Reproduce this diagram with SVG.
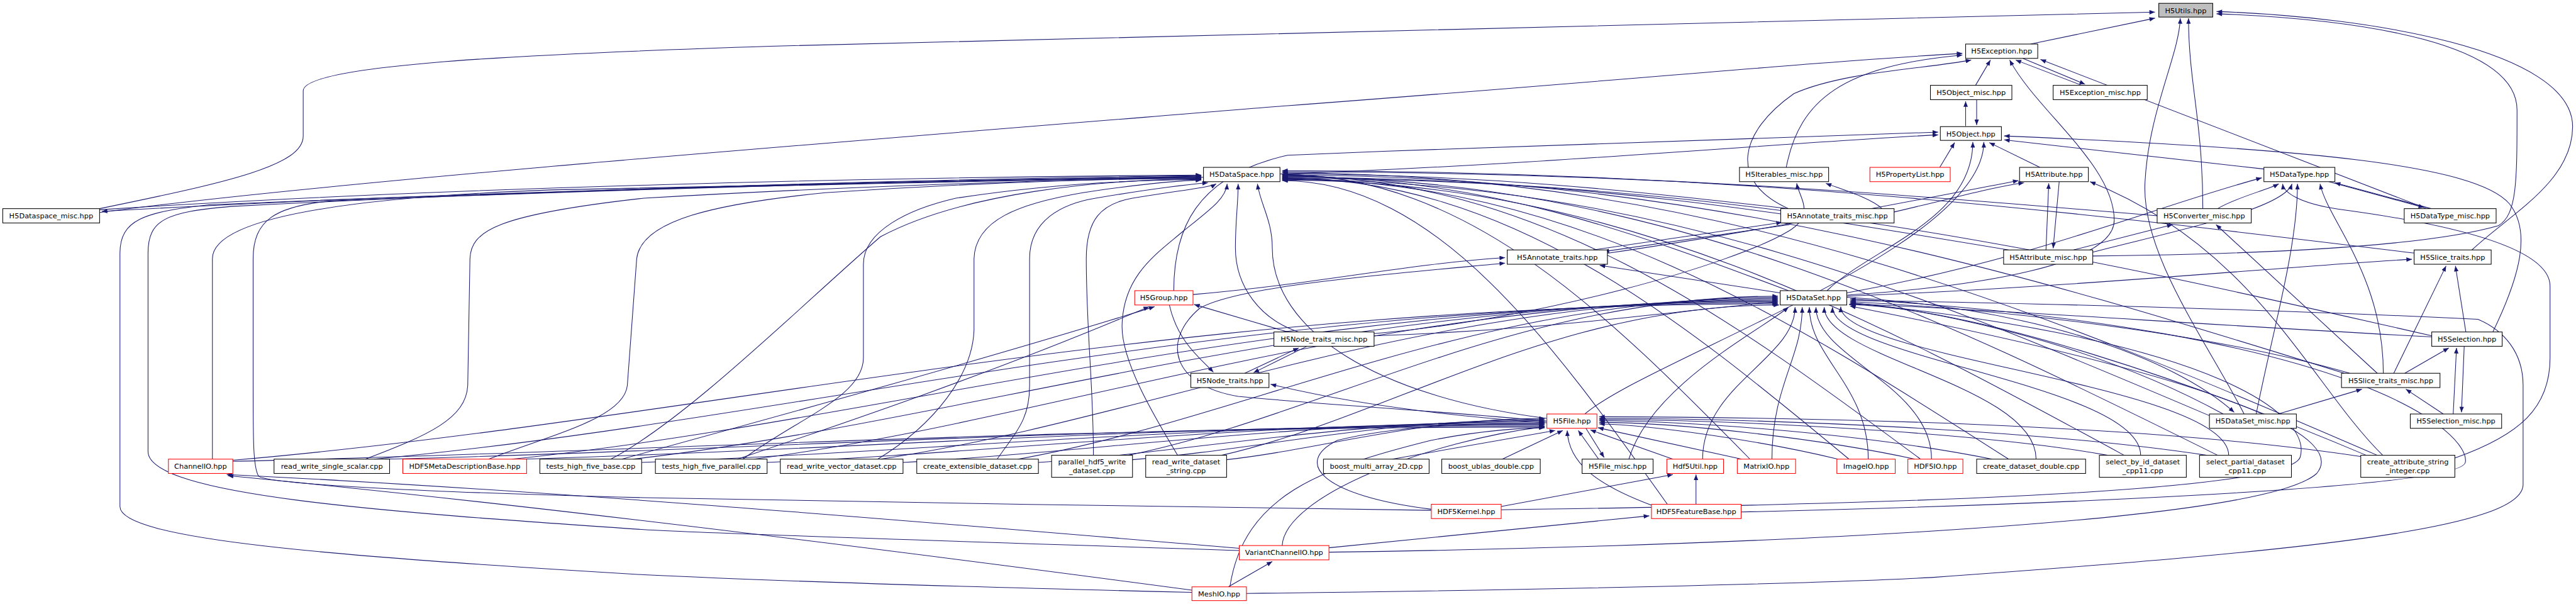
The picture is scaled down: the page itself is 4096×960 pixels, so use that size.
<svg xmlns="http://www.w3.org/2000/svg" width="4096" height="960" viewBox="0 0 4096 960">
<defs>
<marker id="ah" viewBox="0 0 10 8" refX="10" refY="4" markerWidth="11" markerHeight="8" markerUnits="userSpaceOnUse" orient="auto"><path d="M0,0L10,4L0,8z" fill="#191970"/></marker>
<style>
.n rect{fill:#fff;stroke:#000;stroke-width:1.2}
.n.r rect{stroke:#f00}
.n.root rect{fill:#bfbfbf}
.n text{font-family:"DejaVu Sans","Liberation Sans",sans-serif;font-size:13px;text-anchor:middle;fill:#000}
#edges path{fill:none;stroke:#191970;stroke-width:1.2;marker-end:url(#ah)}
</style>
</defs>
<rect width="4096" height="960" fill="#fff"/>
<g transform="scale(0.875)">
<g id="edges">
<path d="M3690,80 L3916,33"/>
<path d="M181,379 C420,330 551,300 551,247 L551,165 C551,120 900,100 1400,84 C2500,50 3500,28 3916,22"/>
<path d="M4003,379 C4003,220 3977,150 3977,33"/>
<path d="M4078,752 C4010,620 3890,460 3898,330 C3905,200 3960,100 3962,33"/>
<path d="M4492,454 C4560,390 4675,330 4675,230 C4675,90 4300,30 4028,21"/>
<path d="M3803,465 C4100,462 4400,450 4540,410 C4574,390 4574,330 4574,200 C4574,80 4300,35 4028,25"/>
<path d="M3590,155 L3617,109"/>
<path d="M3783,155 L3663,109"/>
<path d="M3676,106 L3789,153"/>
<path d="M181,386 C600,330 1500,260 2340,192 C2900,150 3300,112 3566,97"/>
<path d="M3246,304 C3270,180 3350,120 3566,100"/>
<path d="M3250,379 C3140,330 3160,240 3260,170 C3350,130 3500,125 3582,109"/>
<path d="M4410,379 L3708,108"/>
<path d="M3357,536 C3600,520 3842,480 3842,400 C3842,300 3700,200 3652,109"/>
<path d="M3572,229 L3572,184"/>
<path d="M3592,181 L3592,227"/>
<path d="M2326,316 C2800,300 3300,255 3522,245"/>
<path d="M2133,528 C2133,420 2170,320 2340,282 C2800,262 3300,248 3522,240"/>
<path d="M3525,304 L3552,259"/>
<path d="M3707,304 L3615,259"/>
<path d="M4114,307 L3642,254"/>
<path d="M4530,603 C4580,500 4600,420 4560,370 C4500,300 4200,270 3642,247"/>
<path d="M3320,528 C3400,450 3585,400 3585,258"/>
<path d="M2880,752 C3000,650 3605,450 3605,258"/>
<path d="M181,381 C800,340 1600,322 2183,318"/>
<path d="M2187,322 C1600,332 800,348 185,384"/>
<path d="M386,834 L386,470 C386,400 600,360 1000,345 C1600,330 2000,322 2183,320"/>
<path d="M2252,1000 C1800,985 1300,970 1170,962 C700,930 269,900 269,820 L269,460 C269,400 300,385 420,375 C900,350 1600,326 2183,319"/>
<path d="M2166,1076 C1700,1065 1400,1055 1170,1044 C600,1010 218,980 218,920 L218,460 C218,400 260,385 380,372 C900,350 1600,327 2183,321"/>
<path d="M2601,927 C2300,922 1500,912 1170,904 C800,895 490,880 470,865 C460,850 460,800 460,700 L460,470 C460,400 500,375 600,365 C1100,345 1700,327 2183,322"/>
<path d="M664,834 C780,790 847,760 850,700 L854,470 C856,420 900,390 1170,360 C1600,335 2000,325 2183,323"/>
<path d="M888,834 C1000,790 1134,760 1140,700 L1157,470 C1165,400 1300,370 1500,350 C1800,330 2050,324 2183,324"/>
<path d="M1110,834 C1250,760 1450,560 1600,430 C1750,350 2000,326 2183,325"/>
<path d="M1350,834 C1450,760 1569,720 1569,650 L1569,480 C1569,420 1650,380 1737,360 C1900,335 2050,327 2183,326"/>
<path d="M1595,834 C1700,770 1767,680 1770,600 L1770,470 C1772,400 1850,370 1968,350 C2080,333 2150,328 2183,327"/>
<path d="M1812,834 C1850,780 1871,760 1871,700 L1871,470 C1871,400 1930,370 1991,360 C2080,345 2160,335 2195,332"/>
<path d="M1987,827 C1987,700 1974,600 1974,470 C1974,400 2000,370 2058,360 C2150,345 2200,340 2210,334"/>
<path d="M2140,827 C2100,760 2039,660 2039,593 C2040,500 2103,460 2150,420 C2200,380 2228,360 2230,334"/>
<path d="M2360,603 C2290,580 2245,520 2245,450 C2245,400 2250,370 2250,334"/>
<path d="M2811,760 C2500,720 2312,600 2312,450 C2312,400 2290,370 2285,334"/>
<path d="M3250,528 C2974,424 2698,320 2330,320"/>
<path d="M3250,379 C2974,348 2698,316 2330,316"/>
<path d="M3650,454 C3254,388 2858,322 2330,322"/>
<path d="M3920,392 C3443,352 2966,312 2330,312"/>
<path d="M4419,610 C3792,467 3166,324 2330,324"/>
<path d="M4015,755 C3510,540 3004,326 2330,326"/>
<path d="M4260,678 C3681,498 3102,318 2330,318"/>
<path d="M3650,834 C3254,580 2858,325 2330,325"/>
<path d="M3860,827 C3401,577 2942,327 2330,327"/>
<path d="M4030,827 C3520,574 3010,321 2330,321"/>
<path d="M4320,827 C3723,570 3126,314 2330,314"/>
<path d="M3360,834 C3051,578 2742,323 2330,323"/>
<path d="M3490,834 C3142,576 2794,319 2330,319"/>
<path d="M3180,834 C2925,575 2670,317 2330,317"/>
<path d="M3030,916 C2820,622 2610,328 2330,328"/>
<path d="M4390,460 C3772,385 3154,310 2330,310"/>
<path d="M423,836 C1265,764 2108,552 3231,552"/>
<path d="M680,834 C1445,763 2211,550 3231,550"/>
<path d="M930,834 C1620,762 2311,548 3231,548"/>
<path d="M1150,834 C1774,762 2399,546 3231,546"/>
<path d="M1370,834 C1928,761 2487,544 3231,544"/>
<path d="M1600,834 C2089,761 2579,542 3231,542"/>
<path d="M1850,834 C2264,760 2679,540 3231,540"/>
<path d="M2050,827 C2404,755 2759,538 3231,538"/>
<path d="M2220,827 C2524,758 2828,553 3233,554"/>
<path d="M2265,1078 C2800,1072 3300,1060 3510,1049 C4200,1000 4585,960 4585,880 L4585,700 C4585,640 4550,600 4503,580 C4200,565 3700,550 3362,546"/>
<path d="M2960,834 C3000,700 3200,600 3250,558"/>
<path d="M3094,834 C3094,700 3262,650 3262,558"/>
<path d="M3220,834 C3220,700 3275,650 3275,558"/>
<path d="M3395,834 C3395,700 3288,650 3288,558"/>
<path d="M3510,834 C3510,700 3300,650 3300,558"/>
<path d="M3700,834 C3700,700 3315,650 3315,558"/>
<path d="M3890,827 C3890,700 3330,650 3330,558"/>
<path d="M4050,827 C4050,700 3345,650 3345,557"/>
<path d="M4300,827 C4000,700 3600,560 3360,553"/>
<path d="M2728,926 C3300,918 4160,900 4180,830 C4200,760 4050,620 3362,550"/>
<path d="M3164,930 C3600,920 4470,890 4480,840 C4490,790 4300,600 3362,543"/>
<path d="M2415,1003 C3000,995 4100,960 4210,860 C4260,800 4100,700 3362,556"/>
<path d="M2497,610 C2800,600 3000,570 3231,548"/>
<path d="M4040,752 C3800,620 3500,560 3362,550"/>
<path d="M3356,540 C3700,560 3950,650 4060,749"/>
<path d="M4419,612 C4000,590 3600,560 3362,552"/>
<path d="M4270,678 C4000,600 3600,560 3362,548"/>
<path d="M423,838 C1138,822 1853,776 2807,776"/>
<path d="M700,834 C1332,819 1964,774 2807,774"/>
<path d="M950,834 C1507,819 2064,772 2807,772"/>
<path d="M1166,840 C1658,822 2151,770 2807,770"/>
<path d="M1394,840 C1818,822 2242,768 2807,768"/>
<path d="M1641,840 C1991,821 2341,766 2807,766"/>
<path d="M1887,840 C2163,821 2439,764 2807,764"/>
<path d="M2058,835 C2283,817 2507,762 2807,762"/>
<path d="M2229,835 C2402,816 2576,760 2807,760"/>
<path d="M2530,834 L2826,782"/>
<path d="M2730,834 L2840,782"/>
<path d="M2905,834 L2868,782"/>
<path d="M2882,778 L2915,831"/>
<path d="M3040,834 L2890,781"/>
<path d="M3165,834 L2904,777"/>
<path d="M3340,834 C3200,800 3000,772 2906,770"/>
<path d="M3480,834 C3300,795 3050,768 2906,767"/>
<path d="M3620,834 C3400,790 3100,766 2906,764"/>
<path d="M3830,827 C3600,785 3150,763 2906,762"/>
<path d="M4010,827 C3700,780 3200,760 2906,760"/>
<path d="M4295,830 C3900,770 3300,758 2906,757"/>
<path d="M3002,918 C2900,880 2850,840 2848,782"/>
<path d="M2601,925 C2400,900 2350,840 2430,800 C2550,770 2700,770 2807,770"/>
<path d="M2235,1066 C2260,900 2400,850 2600,800 C2700,780 2780,777 2807,777"/>
<path d="M2330,991 C2335,900 2600,800 2807,775"/>
<path d="M2811,765 C2600,745 2400,735 2250,720 C2130,700 2110,620 2180,560 C2250,520 2500,500 2735,478"/>
<path d="M2168,535 C2400,515 2550,480 2735,468"/>
<path d="M3235,532 L2907,482"/>
<path d="M2895,454 L3238,404"/>
<path d="M3252,408 L2914,457"/>
<path d="M2921,460 C3200,420 3500,360 3668,328"/>
<path d="M3442,385 C3550,360 3620,340 3678,332"/>
<path d="M2811,768 C2550,750 2400,720 2309,698"/>
<path d="M2125,554 C2140,620 2180,650 2205,676"/>
<path d="M2262,678 L2360,632"/>
<path d="M2375,629 L2278,677"/>
<path d="M2340,603 L2170,553"/>
<path d="M2497,606 C2800,580 3150,480 3250,420 C3300,390 3270,360 3265,333"/>
<path d="M3420,379 C3400,360 3350,345 3318,333"/>
<path d="M1340,834 C1500,780 1800,680 2088,557"/>
<path d="M1130,834 C1400,760 1800,650 2098,557"/>
<path d="M3356,532 C3700,470 3900,380 4110,323"/>
<path d="M3356,538 C3800,520 4200,480 4383,471"/>
<path d="M4030,379 C4060,360 4120,345 4141,334"/>
<path d="M3803,458 C3950,420 4150,380 4165,334"/>
<path d="M4100,752 C4130,600 4175,450 4175,334"/>
<path d="M4331,678 C4331,500 4230,400 4216,334"/>
<path d="M4461,832 C4580,790 4634,740 4634,650 L4634,520 C4634,440 4400,400 4250,380 C4180,370 4150,350 4148,334"/>
<path d="M4232,330 L4405,377"/>
<path d="M4418,379 L4243,332"/>
<path d="M4330,827 C4200,700 4100,450 3798,330"/>
<path d="M4320,678 L4027,408"/>
<path d="M3768,454 L3948,408"/>
<path d="M4478,629 L4473,749"/>
<path d="M4458,752 L4464,632"/>
<path d="M4481,603 L4462,483"/>
<path d="M4350,678 L4445,483"/>
<path d="M4370,678 L4450,632"/>
<path d="M4440,752 L4372,707"/>
<path d="M4140,752 L4292,707"/>
<path d="M3742,330 L3731,451"/>
<path d="M3718,454 L3723,333"/>
<path d="M2252,996 C1700,950 1000,890 412,862"/>
<path d="M2166,1072 C1700,1010 1000,920 414,864"/>
<path d="M2232,1066 L2312,1020"/>
<path d="M2415,995 L2997,937"/>
<path d="M2728,920 L3040,862"/>
<path d="M3082,916 L3082,862"/>
</g>
<g id="n_H5Utils" class="n root"><rect x="3923" y="6" width="98" height="25"/><text x="3972" y="23.5">H5Utils.hpp</text></g>
<g id="n_H5Exception" class="n"><rect x="3572" y="80" width="131" height="26"/><text x="3637.5" y="97.5">H5Exception.hpp</text></g>
<g id="n_H5Object_misc" class="n"><rect x="3508" y="155" width="148" height="26"/><text x="3582" y="172.5">H5Object_misc.hpp</text></g>
<g id="n_H5Exception_misc" class="n"><rect x="3731" y="155" width="171" height="26"/><text x="3816.5" y="172.5">H5Exception_misc.hpp</text></g>
<g id="n_H5Object" class="n"><rect x="3526" y="230" width="111" height="25"/><text x="3581.5" y="247.5">H5Object.hpp</text></g>
<g id="n_H5DataSpace" class="n"><rect x="2187" y="304" width="139" height="26"/><text x="2256.5" y="321.5">H5DataSpace.hpp</text></g>
<g id="n_H5Iterables_misc" class="n"><rect x="3161" y="304" width="162" height="26"/><text x="3242" y="321.5">H5Iterables_misc.hpp</text></g>
<g id="n_H5PropertyList" class="n r"><rect x="3398" y="304" width="146" height="26"/><text x="3471" y="321.5">H5PropertyList.hpp</text></g>
<g id="n_H5Attribute" class="n"><rect x="3670" y="304" width="125" height="26"/><text x="3732.5" y="321.5">H5Attribute.hpp</text></g>
<g id="n_H5DataType" class="n"><rect x="4114" y="304" width="129" height="26"/><text x="4178.5" y="321.5">H5DataType.hpp</text></g>
<g id="n_H5Dataspace_misc" class="n"><rect x="5" y="379" width="176" height="26"/><text x="93" y="396.5">H5Dataspace_misc.hpp</text></g>
<g id="n_H5Annotate_traits_misc" class="n"><rect x="3236" y="379" width="206" height="26"/><text x="3339" y="396.5">H5Annotate_traits_misc.hpp</text></g>
<g id="n_H5Converter_misc" class="n"><rect x="3920" y="379" width="171" height="26"/><text x="4005.5" y="396.5">H5Converter_misc.hpp</text></g>
<g id="n_H5DataType_misc" class="n"><rect x="4369" y="379" width="167" height="26"/><text x="4452.5" y="396.5">H5DataType_misc.hpp</text></g>
<g id="n_H5Annotate_traits" class="n"><rect x="2739" y="454" width="182" height="26"/><text x="2830" y="471.5">H5Annotate_traits.hpp</text></g>
<g id="n_H5Attribute_misc" class="n"><rect x="3641" y="454" width="162" height="26"/><text x="3722" y="471.5">H5Attribute_misc.hpp</text></g>
<g id="n_H5Slice_traits" class="n"><rect x="4387" y="454" width="140" height="26"/><text x="4457" y="471.5">H5Slice_traits.hpp</text></g>
<g id="n_H5Group" class="n r"><rect x="2062" y="528" width="106" height="26"/><text x="2115" y="545.5">H5Group.hpp</text></g>
<g id="n_H5DataSet" class="n"><rect x="3235" y="528" width="121" height="26"/><text x="3295.5" y="545.5">H5DataSet.hpp</text></g>
<g id="n_H5Node_traits_misc" class="n"><rect x="2315" y="603" width="182" height="26"/><text x="2406" y="620.5">H5Node_traits_misc.hpp</text></g>
<g id="n_H5Selection" class="n"><rect x="4419" y="603" width="128" height="26"/><text x="4483" y="620.5">H5Selection.hpp</text></g>
<g id="n_H5Node_traits" class="n"><rect x="2164" y="678" width="142" height="26"/><text x="2235" y="695.5">H5Node_traits.hpp</text></g>
<g id="n_H5Slice_traits_misc" class="n"><rect x="4255" y="678" width="179" height="26"/><text x="4344.5" y="695.5">H5Slice_traits_misc.hpp</text></g>
<g id="n_H5File" class="n r"><rect x="2811" y="752" width="91" height="26"/><text x="2856.5" y="769.5">H5File.hpp</text></g>
<g id="n_H5DataSet_misc" class="n"><rect x="4015" y="752" width="158" height="26"/><text x="4094" y="769.5">H5DataSet_misc.hpp</text></g>
<g id="n_H5Selection_misc" class="n"><rect x="4380" y="752" width="166" height="26"/><text x="4463" y="769.5">H5Selection_misc.hpp</text></g>
<g id="n_ChannelIO" class="n r"><rect x="306" y="834" width="117" height="26"/><text x="364.5" y="851.5">ChannelIO.hpp</text></g>
<g id="n_read_write_single_scalar" class="n"><rect x="498" y="834" width="210" height="26"/><text x="603" y="851.5">read_write_single_scalar.cpp</text></g>
<g id="n_HDF5MetaDescriptionBase" class="n r"><rect x="732" y="834" width="225" height="26"/><text x="844.5" y="851.5">HDF5MetaDescriptionBase.hpp</text></g>
<g id="n_tests_high_five_base" class="n"><rect x="981" y="834" width="185" height="26"/><text x="1073.5" y="851.5">tests_high_five_base.cpp</text></g>
<g id="n_tests_high_five_parallel" class="n"><rect x="1191" y="834" width="203" height="26"/><text x="1292.5" y="851.5">tests_high_five_parallel.cpp</text></g>
<g id="n_read_write_vector_dataset" class="n"><rect x="1418" y="834" width="223" height="26"/><text x="1529.5" y="851.5">read_write_vector_dataset.cpp</text></g>
<g id="n_create_extensible_dataset" class="n"><rect x="1666" y="834" width="221" height="26"/><text x="1776.5" y="851.5">create_extensible_dataset.cpp</text></g>
<g id="n_parallel_hdf5_write_dataset" class="n"><rect x="1911" y="827" width="147" height="40"/><text x="1984.5" y="843">parallel_hdf5_write</text><text x="1984.5" y="859">_dataset.cpp</text></g>
<g id="n_read_write_dataset_string" class="n"><rect x="2082" y="827" width="147" height="40"/><text x="2155.5" y="843">read_write_dataset</text><text x="2155.5" y="859">_string.cpp</text></g>
<g id="n_boost_multi_array_2D" class="n"><rect x="2405" y="834" width="192" height="26"/><text x="2501" y="851.5">boost_multi_array_2D.cpp</text></g>
<g id="n_boost_ublas_double" class="n"><rect x="2620" y="834" width="179" height="26"/><text x="2709.5" y="851.5">boost_ublas_double.cpp</text></g>
<g id="n_H5File_misc" class="n"><rect x="2875" y="834" width="129" height="26"/><text x="2939.5" y="851.5">H5File_misc.hpp</text></g>
<g id="n_Hdf5Util" class="n r"><rect x="3029" y="834" width="103" height="26"/><text x="3080.5" y="851.5">Hdf5Util.hpp</text></g>
<g id="n_MatrixIO" class="n r"><rect x="3157" y="834" width="106" height="26"/><text x="3210" y="851.5">MatrixIO.hpp</text></g>
<g id="n_ImageIO" class="n r"><rect x="3338" y="834" width="106" height="26"/><text x="3391" y="851.5">ImageIO.hpp</text></g>
<g id="n_HDF5IO" class="n r"><rect x="3467" y="834" width="100" height="26"/><text x="3517" y="851.5">HDF5IO.hpp</text></g>
<g id="n_create_dataset_double" class="n"><rect x="3592" y="834" width="198" height="26"/><text x="3691" y="851.5">create_dataset_double.cpp</text></g>
<g id="n_select_by_id_dataset_cpp11" class="n"><rect x="3815" y="827" width="158" height="40"/><text x="3894" y="843">select_by_id_dataset</text><text x="3894" y="859">_cpp11.cpp</text></g>
<g id="n_select_partial_dataset_cpp11" class="n"><rect x="3997" y="827" width="167" height="40"/><text x="4080.5" y="843">select_partial_dataset</text><text x="4080.5" y="859">_cpp11.cpp</text></g>
<g id="n_create_attribute_string_integer" class="n"><rect x="4290" y="827" width="171" height="40"/><text x="4375.5" y="843">create_attribute_string</text><text x="4375.5" y="859">_integer.cpp</text></g>
<g id="n_HDF5Kernel" class="n r"><rect x="2601" y="916" width="127" height="26"/><text x="2664.5" y="933.5">HDF5Kernel.hpp</text></g>
<g id="n_HDF5FeatureBase" class="n r"><rect x="3001" y="916" width="163" height="26"/><text x="3082.5" y="933.5">HDF5FeatureBase.hpp</text></g>
<g id="n_VariantChannelIO" class="n r"><rect x="2252" y="991" width="163" height="26"/><text x="2333.5" y="1008.5">VariantChannelIO.hpp</text></g>
<g id="n_MeshIO" class="n r"><rect x="2166" y="1066" width="99" height="25"/><text x="2215.5" y="1083.5">MeshIO.hpp</text></g>
</g>
</svg>
